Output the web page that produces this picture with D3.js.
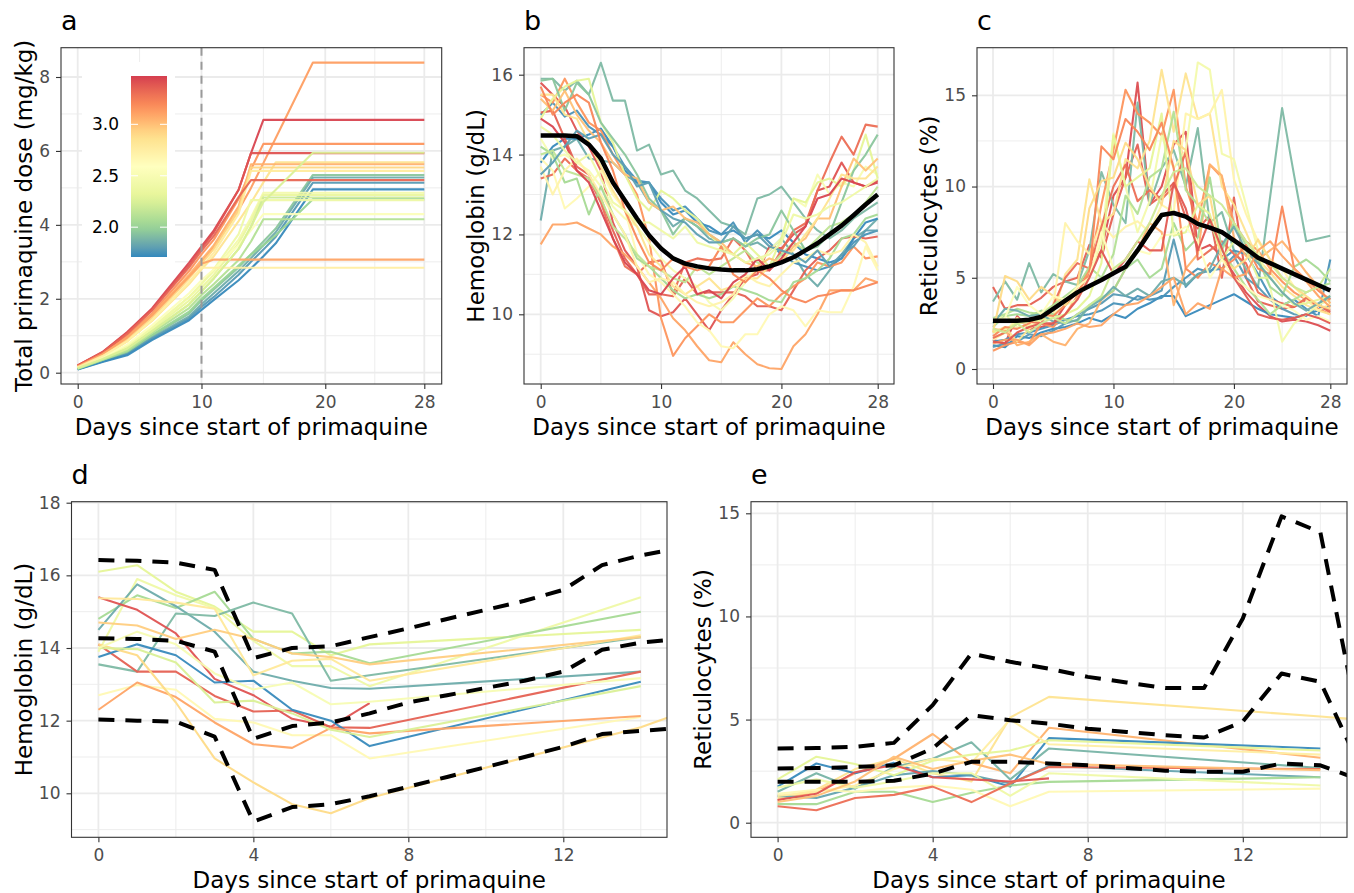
<!DOCTYPE html>
<html><head><meta charset="utf-8">
<script src="https://cdn.jsdelivr.net/npm/d3@7"></script>
<style>body{margin:0;background:#fff;} text{font-family:"DejaVu Sans",sans-serif;}</style>
</head><body><script>
// ---------------- DATA ----------------
const xTitle = "Days since start of primaquine";
const colorTicks = [2.0, 2.5, 3.0];
const colorLimits = [1.71, 3.47];
const spectral7 = ["#D53E4F","#FC8D59","#FEE08B","#FFFFBF","#E6F598","#99D594","#3288BD"];

// Panel a: cumulative dose
const doseDays = [0,2,4,6,9,10,11,13,14,15,16,19,28];
const doseColor = [3.12,3.45,3.15,3.40,2.85,3.05,2.92,2.78,1.95,1.85,3.33,1.78,1.72,2.45,2.35,2.20,2.00,2.40,2.55,2.10,3.10,2.75,2.25];
const doseSeries = [
 [0.17,0.50,0.95,1.55,2.60,3.00,3.40,4.40,5.00,5.67,6.35,8.39,8.39],
 [0.20,0.56,1.10,1.74,2.98,3.42,3.85,4.95,5.94,6.84,6.84,6.84,6.84],
 [0.18,0.52,1.00,1.60,2.75,3.20,3.60,4.70,5.50,6.19,6.19,6.19,6.19],
 [0.20,0.55,1.08,1.70,2.90,3.36,3.80,4.95,5.94,5.94,5.94,5.94,5.94],
 [0.15,0.45,0.85,1.40,2.40,2.80,3.15,4.10,4.60,5.15,5.69,5.69,5.69],
 [0.17,0.50,0.95,1.55,2.65,3.05,3.45,4.50,5.64,5.64,5.64,5.64,5.64],
 [0.16,0.48,0.90,1.48,2.55,2.95,3.35,4.40,5.55,5.55,5.55,5.55,5.55],
 [0.15,0.45,0.85,1.42,2.45,2.85,3.25,4.30,5.46,5.46,5.46,5.46,5.46],
 [0.10,0.33,0.55,1.00,1.60,1.95,2.25,2.85,3.20,3.55,3.90,5.35,5.35],
 [0.10,0.32,0.52,0.95,1.52,1.85,2.15,2.75,3.10,3.45,3.80,5.28,5.28],
 [0.19,0.54,1.05,1.68,2.85,3.30,3.70,4.75,5.21,5.21,5.21,5.21,5.21],
 [0.09,0.30,0.50,0.92,1.47,1.78,2.05,2.65,3.00,3.33,3.68,5.14,5.14],
 [0.09,0.29,0.47,0.88,1.42,1.70,1.97,2.50,2.82,3.15,3.50,4.96,4.96],
 [0.13,0.40,0.72,1.22,2.05,2.40,2.75,3.60,4.20,4.87,4.87,4.87,4.87],
 [0.12,0.38,0.68,1.17,1.95,2.30,2.65,3.50,4.10,4.81,4.81,4.81,4.81],
 [0.12,0.37,0.65,1.12,1.85,2.20,2.55,3.35,3.95,4.74,4.74,4.74,4.74],
 [0.10,0.34,0.57,1.02,1.65,2.00,2.30,2.90,3.20,3.45,3.72,4.69,4.69],
 [0.13,0.40,0.72,1.20,2.05,2.40,2.80,3.75,4.67,4.67,4.67,4.67,4.67],
 [0.14,0.42,0.76,1.28,2.15,2.50,2.80,3.45,3.85,4.29,4.29,4.29,4.29],
 [0.11,0.35,0.60,1.08,1.75,2.10,2.40,3.05,3.55,4.15,4.15,4.15,4.15],
 [0.17,0.50,0.95,1.55,2.60,2.95,3.06,3.06,3.06,3.06,3.06,3.06,3.06],
 [0.15,0.45,0.85,1.42,2.45,2.84,2.84,2.84,2.84,2.84,2.84,2.84,2.84],
 [0.12,0.37,0.65,1.12,1.85,2.20,2.55,3.35,3.95,4.62,4.95,5.95,5.95]
];

// Panel b: hemoglobin, days 0..28
const hbDays = d3.range(0, 29);
const hbColor = [1.90,1.85,1.72,1.75,3.40,3.35,3.30,3.10,3.15,2.65,2.50,2.30,2.05,2.15,1.95,3.00,2.85,2.70,3.45,1.80,3.20,2.40];
const hbSeries = [
 [15.9,15.9,15.6,15.85,15.5,16.3,15.35,15.35,14.1,14.25,13.5,13.6,13.1,12.9,12.6,12.3,12.2,12.0,12.9,13.0,13.2,12.8,12.4,12.1,11.9,12.1,12.4,12.6,12.8],
 [12.35,14.1,14.2,14.4,13.9,13.85,13.8,13.5,13.3,12.8,12.6,12.2,12.4,12.2,11.9,11.8,11.9,11.7,11.8,11.6,11.9,11.5,11.0,10.7,11.1,11.5,11.9,12.1,12.4],
 [13.8,14.2,14.4,14.4,14.5,14.65,14.2,13.6,13.3,13.3,12.8,12.5,12.6,12.3,12.2,12.0,12.1,11.9,12.0,11.9,12.1,11.8,11.5,11.4,11.3,11.4,11.9,12.3,12.4],
 [15.0,15.3,14.95,15.1,14.7,14.5,14.2,13.7,13.35,13.3,12.9,12.6,12.7,12.4,12.1,12.0,12.3,11.8,12.1,11.8,11.5,11.3,11.2,11.1,11.2,11.4,11.8,12.0,12.1],
 [15.8,15.5,15.2,14.6,14.2,13.6,12.3,11.6,11.2,10.1,9.95,10.05,10.4,10.0,9.6,10.1,10.5,10.9,11.0,11.7,11.65,12.0,12.2,13.1,13.2,13.8,13.3,13.2,13.35],
 [15.05,15.1,14.4,13.7,13.5,12.9,12.1,11.4,11.0,10.5,10.5,10.45,10.9,10.5,10.55,10.55,10.55,10.45,10.2,10.2,10.1,10.6,11.1,11.4,11.6,11.9,11.95,11.9,11.95],
 [13.4,13.5,13.9,13.6,13.4,12.8,11.9,11.2,11.0,11.3,11.35,10.5,11.3,11.4,11.35,11.4,11.9,11.6,11.1,11.1,11.6,12.1,12.28,13.1,13.8,14.45,14.0,14.75,14.7],
 [11.75,12.25,12.25,12.3,12.15,12.0,11.7,11.5,11.2,10.8,10.4,9.9,9.6,9.2,8.85,8.8,9.3,9.0,8.75,8.65,8.63,9.2,9.5,10.0,10.6,10.6,10.6,10.9,10.8],
 [15.5,15.3,15.9,15.3,14.8,14.6,14.0,13.5,13.0,11.9,9.9,8.96,9.4,9.7,10.0,9.8,9.8,10.1,10.4,10.2,10.5,10.7,10.9,11.3,11.2,11.3,11.7,11.4,11.45],
 [13.9,13.6,12.65,12.9,13.2,13.6,13.0,12.6,11.5,11.0,10.8,10.5,10.2,9.8,9.6,9.2,9.15,9.5,9.5,10.0,10.2,10.1,9.7,10.1,10.05,10.05,10.7,11.7,11.1],
 [14.4,13.9,14.0,13.8,13.6,13.2,12.7,12.4,12.2,11.8,11.4,11.1,10.9,10.7,10.3,10.1,10.4,10.8,11.2,11.6,11.9,12.9,12.7,13.5,13.0,13.3,13.2,13.7,13.5],
 [14.9,15.4,15.7,15.85,15.9,14.8,14.3,13.5,12.9,12.6,13.1,12.9,12.6,12.4,12.0,11.7,11.5,11.8,11.5,11.2,11.9,12.9,12.8,13.3,13.4,13.2,13.6,14.5,13.4],
 [14.2,14.0,13.3,13.4,12.5,13.2,12.5,12.0,11.4,11.2,10.9,10.6,10.4,10.5,10.4,10.5,10.7,10.6,10.5,10.35,10.3,10.8,10.9,11.1,11.4,11.9,12.0,12.4,12.5],
 [14.0,14.1,13.6,13.5,13.4,12.9,12.2,11.9,11.5,11.2,11.1,10.9,10.8,11.2,11.0,11.2,11.4,11.6,11.3,11.2,11.5,11.8,11.6,11.9,12.2,12.3,12.5,12.8,13.2],
 [15.85,15.9,15.1,15.8,15.5,14.8,14.4,14.0,13.5,12.9,12.6,12.0,12.4,12.2,12.0,11.8,11.9,11.7,11.9,12.0,12.6,12.1,11.6,11.7,12.0,12.8,13.6,14.0,14.5],
 [15.4,15.1,15.6,15.0,14.6,14.3,13.8,13.5,13.4,12.8,12.6,12.7,12.4,12.3,12.0,11.8,11.5,11.3,11.2,11.4,11.3,11.7,11.9,12.4,12.4,13.2,13.9,13.6,13.9],
 [15.5,15.5,15.0,14.9,14.3,13.7,13.1,12.6,12.2,11.5,11.2,10.7,10.5,10.7,10.9,10.6,10.7,10.9,10.9,11.2,11.4,11.6,12.0,12.4,12.9,13.5,13.4,13.4,13.7],
 [13.7,13.0,13.6,13.9,13.5,13.0,12.5,12.0,11.2,10.8,10.9,10.8,10.5,10.3,10.2,10.3,10.5,11.0,10.8,10.7,11.0,11.3,11.4,11.6,11.5,11.6,12.0,11.8,11.2],
 [14.9,14.7,14.3,13.6,13.3,12.6,11.9,11.3,11.0,10.6,10.5,10.9,11.2,10.5,10.6,10.4,10.8,11.0,11.4,11.1,11.4,11.8,12.2,12.9,13.0,13.4,13.3,13.2,13.3],
 [13.5,13.8,14.2,14.6,14.4,14.5,14.0,13.7,13.2,13.3,12.6,12.4,12.3,12.0,11.8,11.8,12.2,11.9,12.0,11.7,11.6,11.5,11.3,11.6,11.2,11.5,11.7,12.1,12.1],
 [15.7,15.0,15.3,15.5,15.3,14.3,13.6,12.6,11.9,11.3,11.1,11.4,11.2,11.1,11.2,11.7,11.0,10.8,11.1,10.9,10.6,10.4,10.3,10.45,10.5,10.6,10.6,10.7,10.8],
 [14.7,14.5,14.1,13.8,14.0,13.4,12.8,12.6,12.3,12.3,12.1,11.9,12.2,11.8,11.7,11.6,11.5,11.3,11.4,11.5,11.8,12.5,12.4,12.5,12.7,12.8,13.0,13.2,13.4]
];
const hbMean = [14.48,14.48,14.48,14.46,14.25,13.9,13.3,12.85,12.4,11.98,11.65,11.4,11.27,11.2,11.15,11.12,11.1,11.1,11.13,11.2,11.3,11.43,11.6,11.78,12.0,12.22,12.48,12.75,13.0];

// Panel c: reticulocytes, days 0..28
const retDays = d3.range(0, 29);
const retColor = [3.42,3.35,1.90,1.72,1.78,1.75,3.15,2.85,2.45,2.70,3.05,3.30,2.05,2.10,2.30,3.20,1.85,2.90,2.60,3.10,3.38,2.20];
const retSeries = [
 [1.6,1.4,2.9,2.2,2.3,2.5,3.5,4.5,5.5,6.5,9.5,10.5,15.7,9.0,10.0,12.3,13.0,6.5,6.8,6.2,5.2,4.2,3.5,2.9,2.6,2.7,2.6,2.4,2.1],
 [4.5,3.3,3.5,3.5,3.9,4.5,4.8,5.0,6.8,6.1,8.5,10.5,12.3,9.0,9.5,10.2,8.3,7.7,8.4,5.0,9.4,5.0,3.7,3.5,3.3,3.4,3.8,3.5,3.1],
 [3.7,4.8,3.8,5.8,4.2,5.2,4.8,4.6,6.5,10.8,9.0,8.0,14.6,9.0,11.0,12.0,10.0,13.2,8.0,8.6,6.5,5.5,4.5,9.4,14.3,10.6,7.0,7.15,7.3],
 [1.3,1.2,1.8,1.7,2.0,2.2,2.3,2.5,2.8,2.6,3.0,2.8,3.3,3.6,4.0,4.0,2.9,3.2,3.5,3.8,4.1,3.7,3.3,3.0,2.9,2.8,3.0,3.2,3.5],
 [1.2,1.4,1.5,1.9,1.8,2.1,2.5,3.0,3.3,3.6,4.1,4.0,3.8,4.0,4.3,7.1,4.5,5.2,5.4,5.5,6.2,5.0,4.5,3.8,3.3,3.0,2.9,3.5,3.9],
 [1.5,1.6,1.9,2.0,2.2,2.4,2.7,2.9,3.0,3.2,3.6,3.5,4.0,3.8,3.9,4.5,5.0,5.5,5.3,6.0,6.5,6.3,5.2,4.0,3.5,3.8,3.3,2.9,6.0],
 [1.0,1.3,1.5,1.4,2.5,2.3,3.0,4.0,5.5,9.0,12.0,15.3,14.0,13.5,12.8,15.3,10.0,8.0,11.2,10.5,8.0,7.0,6.5,5.5,4.8,4.2,3.8,3.3,3.0],
 [2.0,2.3,1.5,2.2,2.7,3.0,5.2,6.0,10.4,8.0,8.5,11.5,11.0,12.5,16.4,13.0,16.2,13.7,14.0,10.0,9.0,7.5,6.0,5.3,4.5,4.0,3.5,3.2,3.0],
 [2.5,3.0,2.3,2.4,2.8,3.0,3.5,3.8,5.0,7.0,12.9,10.0,7.5,9.2,12.8,11.0,12.0,16.8,16.4,11.8,11.5,9.0,6.5,4.5,1.5,2.5,3.0,3.5,3.8],
 [1.6,2.0,2.8,2.3,3.1,3.5,8.0,7.0,6.3,8.0,7.2,7.8,8.1,7.5,9.0,8.6,14.0,13.7,14.0,15.3,10.4,8.5,7.0,6.0,5.5,4.5,3.8,3.2,3.6],
 [2.2,2.1,1.3,1.5,1.9,1.5,1.3,2.2,2.5,3.8,4.3,5.5,6.5,8.0,7.5,3.5,5.5,6.3,11.2,10.6,7.2,6.2,6.0,6.5,7.0,6.2,5.3,4.5,3.6],
 [1.7,2.0,2.5,2.6,2.5,3.5,5.0,5.8,5.5,7.8,10.0,11.2,9.2,9.8,9.3,10.0,11.9,6.0,6.5,7.0,6.3,5.8,4.2,3.8,3.6,3.4,3.9,3.5,3.2],
 [2.3,2.9,3.0,2.9,3.2,3.0,2.7,2.6,3.5,3.9,4.3,5.5,6.0,5.0,5.5,8.0,6.5,7.2,10.5,6.5,8.0,6.8,6.0,4.5,4.0,5.6,6.0,5.5,4.8],
 [2.8,3.0,3.3,3.1,3.0,3.5,4.0,4.5,5.6,5.0,6.3,9.5,8.5,10.5,11.0,14.1,9.8,9.0,8.0,6.5,5.5,4.5,3.8,3.0,3.5,3.8,4.2,4.5,4.7],
 [2.0,2.2,2.5,2.6,2.7,2.8,3.0,3.3,4.0,5.8,12.8,10.0,10.5,11.0,14.0,7.3,7.5,9.0,8.5,6.0,7.0,6.5,5.0,5.0,4.2,3.5,3.6,3.8,4.0],
 [1.8,2.3,2.2,2.5,3.0,2.9,3.5,4.2,5.2,12.2,11.5,13.7,13.0,12.0,13.5,11.0,5.5,5.0,5.8,5.5,6.0,6.8,5.5,5.2,8.9,5.5,4.9,4.3,3.8],
 [2.5,3.3,3.2,2.9,3.0,2.6,2.5,2.7,3.4,3.8,4.5,4.0,4.4,4.0,4.8,5.0,4.6,5.2,5.5,6.8,7.8,6.5,5.8,5.0,4.2,3.6,3.2,3.6,4.0],
 [2.0,5.1,4.8,3.8,4.5,4.0,3.5,4.5,8.8,10.3,10.5,12.4,11.5,10.0,9.0,12.5,12.0,9.0,9.5,6.0,5.5,6.0,7.1,6.0,5.0,4.5,4.0,3.5,3.3],
 [2.6,2.8,4.5,3.5,3.0,4.0,3.8,4.5,5.0,7.5,5.5,6.0,6.5,6.3,7.3,7.4,7.8,7.0,5.0,6.0,5.0,4.5,4.0,3.8,3.5,3.2,2.7,2.9,2.6],
 [1.4,1.6,1.6,1.3,1.9,2.0,2.2,2.5,2.3,2.4,3.0,3.5,3.6,4.0,4.5,5.0,3.0,3.6,3.3,5.5,5.0,5.2,6.5,7.0,6.2,5.5,4.8,4.0,3.4],
 [1.5,1.4,2.0,2.3,2.5,2.5,3.0,3.8,5.0,6.5,5.2,6.0,7.0,6.5,6.5,10.2,8.8,6.5,8.2,6.6,5.0,4.0,3.0,2.8,2.7,2.8,3.0,2.8,2.5],
 [2.2,2.0,2.5,2.0,2.5,2.8,2.5,3.0,3.5,4.0,5.5,6.0,7.0,8.0,9.5,10.8,11.0,10.0,9.5,9.0,8.0,7.0,6.2,5.8,5.0,4.5,4.2,4.5,5.5]
];
const retMean = [2.65,2.65,2.65,2.7,2.85,3.3,3.75,4.2,4.55,4.88,5.25,5.6,6.5,7.5,8.44,8.55,8.35,7.95,7.75,7.5,7.05,6.6,6.1,5.8,5.5,5.2,4.9,4.6,4.3];

// Panels d, e: early follow-up
const earlyDays = [0,1,2,3,4,5,6,7,14,15];
const bandDays = d3.range(0, 16);
const earlyHbColor = [2.30,2.40,2.05,1.85,1.90,3.40,3.35,1.72,2.80,2.95,2.65,3.10,2.90,2.25,2.50];
const earlyHbSeries = [
 [16.1,16.28,15.55,15.14,14.45,14.45,13.8,14.1,14.5],
 [13.9,15.9,15.45,15.1,14.2,13.5,13.5,12.95,15.4],
 [14.8,15.45,15.1,15.55,14.25,13.85,13.9,13.58,15.0],
 [14.5,15.75,15.15,14.45,13.35,13.1,12.9,12.88,13.35],
 [13.55,13.35,14.95,14.88,15.25,14.95,13.1,13.25,14.3],
 [15.4,15.05,14.4,13.15,12.7,12.05,11.83,12.48],
 [14.1,13.35,13.35,12.68,12.25,12.28,11.82,11.8,13.35],
 [13.75,14.1,13.8,13.05,13.1,12.3,12.0,11.3,13.07],
 [15.37,15.35,15.25,15.08,13.25,13.65,13.7,13.1,14.35],
 [14.7,14.62,14.25,14.5,14.25,13.85,13.75,13.55,14.3],
 [12.7,12.98,12.85,12.05,11.95,11.6,11.6,10.96,12.1],
 [12.3,13.05,12.65,11.95,11.35,11.25,11.8,11.65,12.13],
 [14.1,13.8,12.5,10.96,10.3,9.7,9.45,9.87,11.82,12.2],
 [14.0,13.97,13.6,12.5,12.55,12.2,11.75,11.55,12.95],
 [14.0,14.45,14.1,13.3,12.86,13.05,12.45,12.52,13.17]
];
const hbUpper = [16.42,16.4,16.35,16.15,13.72,14.0,14.05,14.3,14.54,14.8,15.05,15.3,15.6,16.28,16.55,16.75];
const hbMid   = [14.27,14.25,14.2,13.9,11.5,11.85,11.95,12.2,12.5,12.7,12.9,13.1,13.35,13.95,14.15,14.25];
const hbLower = [12.03,12.0,11.97,11.56,9.22,9.62,9.7,9.92,10.18,10.45,10.72,11.0,11.28,11.63,11.72,11.8];

const earlyRetColor = [2.85,3.05,1.72,1.88,1.82,2.05,2.30,2.40,2.65,2.75,3.40,3.30,3.00];
const earlyRetSeries = [
 [1.2,1.6,2.6,3.1,2.4,2.0,5.1,6.1,5.15,5.0],
 [1.1,1.5,2.4,3.1,4.3,2.9,2.4,4.6,3.15],
 [1.75,2.87,2.4,2.9,2.2,2.3,1.75,4.1,3.6],
 [1.5,2.4,1.65,2.7,3.1,3.9,2.1,3.6,2.65],
 [1.3,1.2,1.7,2.3,2.5,2.3,1.9,2.75,2.2],
 [0.9,0.9,1.5,1.5,1.0,1.45,1.8,1.98,2.2],
 [2.1,3.2,2.85,2.3,3.0,3.3,3.5,4.0,3.5],
 [1.7,2.1,1.7,2.0,2.4,2.4,1.3,2.4,1.8],
 [1.4,1.6,1.5,1.7,1.8,1.6,0.8,1.5,1.65],
 [1.3,1.5,1.8,2.6,3.1,2.9,5.0,3.8,3.3],
 [1.1,1.4,2.45,2.8,2.2,2.1,2.0,2.15],
 [0.8,0.6,1.2,1.35,1.75,1.0,1.9,2.7,2.6],
 [1.0,1.3,2.0,3.2,2.6,3.0,3.3,2.85,2.55]
];
const retUpper = [3.6,3.62,3.68,3.87,5.7,8.2,7.8,7.47,7.07,6.8,6.53,6.53,9.9,14.85,14.08,4.7];
const retMid   = [2.63,2.65,2.7,2.78,3.6,5.21,4.97,4.8,4.56,4.4,4.24,4.13,4.9,7.23,6.83,2.8];
const retLower = [1.98,1.98,1.98,2.03,2.38,2.95,2.95,2.87,2.78,2.65,2.52,2.47,2.47,2.87,2.78,2.1];

// tick values
const ticksA = {x:[0,10,20,28], xm:[5,15,24], y:[0,2,4,6,8], ym:[1,3,5,7]};
const ticksB = {x:[0,10,20,28], xm:[5,15,24], y:[10,12,14,16], ym:[9,11,13,15]};
const ticksC = {x:[0,10,20,28], xm:[5,15,24], y:[0,5,10,15], ym:[2.5,7.5,12.5]};
const ticksD = {x:[0,4,8,12], xm:[2,6,10,14], y:[10,12,14,16,18], ym:[9,11,13,15,17]};
const ticksE = {x:[0,4,8,12], xm:[2,6,10,14], y:[0,5,10,15], ym:[2.5,7.5,12.5]};

// ---------------- DRAWING ----------------
const W = 1354, H = 893;
const svg = d3.select("body").append("svg").attr("width", W).attr("height", H);
svg.append("rect").attr("width", W).attr("height", H).attr("fill", "#fff");
const defs = svg.append("defs");

const color = d3.scaleLinear()
  .domain(spectral7.map((c, i) => colorLimits[1] - i * (colorLimits[1] - colorLimits[0]) / 6))
  .range(spectral7).interpolate(d3.interpolateLab).clamp(true);

function makePanel(cfg) {
  const x = d3.scaleLinear().domain([cfg.xa[0], cfg.xa[2]]).range([cfg.xa[1], cfg.xa[3]]);
  const y = d3.scaleLinear().domain([cfg.ya[0], cfg.ya[2]]).range([cfg.ya[1], cfg.ya[3]]);
  const g = svg.append("g");
  const w = cfg.right - cfg.left, h = cfg.bottom - cfg.top;
  g.append("rect").attr("x", cfg.left).attr("y", cfg.top).attr("width", w).attr("height", h).attr("fill", "#fff");
  const grid = g.append("g").attr("stroke", "#EBEBEB");
  cfg.t.xm.forEach(v => grid.append("line").attr("x1", x(v)).attr("x2", x(v)).attr("y1", cfg.top).attr("y2", cfg.bottom).attr("stroke-width", 0.9));
  cfg.t.ym.forEach(v => grid.append("line").attr("y1", y(v)).attr("y2", y(v)).attr("x1", cfg.left).attr("x2", cfg.right).attr("stroke-width", 0.9));
  cfg.t.x.forEach(v => grid.append("line").attr("x1", x(v)).attr("x2", x(v)).attr("y1", cfg.top).attr("y2", cfg.bottom).attr("stroke-width", 1.8));
  cfg.t.y.forEach(v => grid.append("line").attr("y1", y(v)).attr("y2", y(v)).attr("x1", cfg.left).attr("x2", cfg.right).attr("stroke-width", 1.8));
  const id = "clip" + cfg.letter;
  defs.append("clipPath").attr("id", id).append("rect")
    .attr("x", cfg.left).attr("y", cfg.top).attr("width", w).attr("height", h);
  const plot = g.append("g").attr("clip-path", `url(#${id})`);
  return {x, y, g, plot, cfg};
}

function finishPanel(P) {
  const {x, y, g, cfg} = P;
  g.append("rect").attr("x", cfg.left).attr("y", cfg.top)
    .attr("width", cfg.right - cfg.left).attr("height", cfg.bottom - cfg.top)
    .attr("fill", "none").attr("stroke", "#333333").attr("stroke-width", 1.1);
  const xa = g.append("g").attr("transform", `translate(0,${cfg.bottom})`)
    .call(d3.axisBottom(x).tickValues(cfg.t.x).tickSize(5).tickPadding(7).tickFormat(d3.format("d")));
  const ya = g.append("g").attr("transform", `translate(${cfg.left},0)`)
    .call(d3.axisLeft(y).tickValues(cfg.t.y).tickSize(5).tickPadding(6).tickFormat(d3.format("d")));
  [xa, ya].forEach(a => {
    a.select(".domain").remove();
    a.selectAll("line").attr("stroke", "#333333").attr("stroke-width", 1.1);
    a.selectAll("text").attr("fill", "#4D4D4D").attr("font-size", 17).attr("font-family", "DejaVu Sans");
  });
  const bb = ya.node().getBBox();
  const minX = cfg.left + bb.x;
  g.append("text").attr("transform", `translate(${minX - 7},${(cfg.top + cfg.bottom) / 2}) rotate(-90)`)
    .attr("text-anchor", "middle").attr("font-size", 23).attr("fill", "#000").text(cfg.yTitle);
  g.append("text").attr("x", (cfg.left + cfg.right) / 2).attr("y", cfg.bottom + 51)
    .attr("text-anchor", "middle").attr("font-size", 23).attr("fill", "#000").text(xTitle);
  g.append("text").attr("x", cfg.left).attr("y", cfg.top - 18)
    .attr("font-size", 27).attr("fill", "#000").text(cfg.letter);
}

function drawLines(P, days, series, colors, width) {
  const line = d3.line().x((v, i) => P.x(days[i])).y(v => P.y(v));
  series.forEach((s, k) => {
    P.plot.append("path").attr("d", line(s)).attr("fill", "none")
      .attr("stroke", color(colors[k])).attr("stroke-width", width || 2.1)
      .attr("stroke-opacity", 0.95).attr("stroke-linejoin", "round");
  });
}
function drawBlack(P, days, s, dashed) {
  const line = d3.line().x((v, i) => P.x(days[i])).y(v => P.y(v));
  const p = P.plot.append("path").attr("d", line(s)).attr("fill", "none")
    .attr("stroke", "#000").attr("stroke-width", dashed ? 4 : 4.5).attr("stroke-linejoin", "round");
  if (dashed) p.attr("stroke-dasharray", "16,11");
}

// Panel a
const A = makePanel({left:61, top:47.7, right:441.7, bottom:384, xa:[0,77.7,28,424.3], ya:[0,372.7,8,77],
  t:ticksA, letter:"a", yTitle:"Total primaquine dose (mg/kg)"});
drawLines(A, doseDays, doseSeries, doseColor);
A.plot.append("line").attr("x1", A.x(10)).attr("x2", A.x(10)).attr("y1", 47.7).attr("y2", 384)
  .attr("stroke", "#9A9A9A").attr("stroke-width", 2).attr("stroke-dasharray", "8,6");
// colour bar legend
{
  const lg = A.g.append("g");
  lg.append("rect").attr("x", 82).attr("y", 62).attr("width", 93).attr("height", 208).attr("fill", "#fff");
  const grad = defs.append("linearGradient").attr("id", "cbar").attr("x1", 0).attr("y1", 0).attr("x2", 0).attr("y2", 1);
  const ly = d3.scaleLinear().domain(colorLimits).range([257, 76]);
  d3.range(0, 21).forEach(i => {
    const v = colorLimits[1] - i * (colorLimits[1] - colorLimits[0]) / 20;
    grad.append("stop").attr("offset", (i / 20)).attr("stop-color", color(v));
  });
  lg.append("rect").attr("x", 131).attr("y", 76).attr("width", 36).attr("height", 181).attr("fill", "url(#cbar)");
  colorTicks.forEach(v => {
    lg.append("line").attr("x1", 131).attr("x2", 138).attr("y1", ly(v)).attr("y2", ly(v)).attr("stroke", "#fff").attr("stroke-width", 1);
    lg.append("line").attr("x1", 160).attr("x2", 167).attr("y1", ly(v)).attr("y2", ly(v)).attr("stroke", "#fff").attr("stroke-width", 1);
    lg.append("text").attr("x", 119).attr("y", ly(v)).attr("dy", "0.35em").attr("text-anchor", "end")
      .attr("font-size", 17).attr("fill", "#000").text(d3.format(".1f")(v));
  });
}
finishPanel(A);

// Panel b
const B = makePanel({left:524, top:47.7, right:894, bottom:384, xa:[0,540.7,28,877.7], ya:[10,314.3,16,74.7],
  t:ticksB, letter:"b", yTitle:"Hemoglobin (g/dL)"});
drawLines(B, hbDays, hbSeries, hbColor);
drawBlack(B, hbDays, hbMean, false);
finishPanel(B);

// Panel c
const C = makePanel({left:977, top:47.7, right:1347, bottom:384, xa:[0,993,28,1330.3], ya:[0,369,15,95.3],
  t:ticksC, letter:"c", yTitle:"Reticulocytes (%)"});
drawLines(C, retDays, retSeries, retColor);
drawBlack(C, retDays, retMean, false);
finishPanel(C);

// Panel d
const D = makePanel({left:71.5, top:501.7, right:667, bottom:837.3, xa:[0,98.4,12,563.3], ya:[10,793.3,18,502.7],
  t:ticksD, letter:"d", yTitle:"Hemoglobin (g/dL)"});
drawLines(D, earlyDays, earlyHbSeries, earlyHbColor);
[hbUpper, hbMid, hbLower].forEach(s => drawBlack(D, bandDays, s, true));
finishPanel(D);

// Panel e
const E = makePanel({left:751, top:501.7, right:1347, bottom:837.3, xa:[0,777.6,12,1242.8], ya:[0,822.7,15,513.3],
  t:ticksE, letter:"e", yTitle:"Reticulocytes (%)"});
drawLines(E, earlyDays, earlyRetSeries, earlyRetColor);
[retUpper, retMid, retLower].forEach(s => drawBlack(E, bandDays, s, true));
finishPanel(E);
</script></body></html>
